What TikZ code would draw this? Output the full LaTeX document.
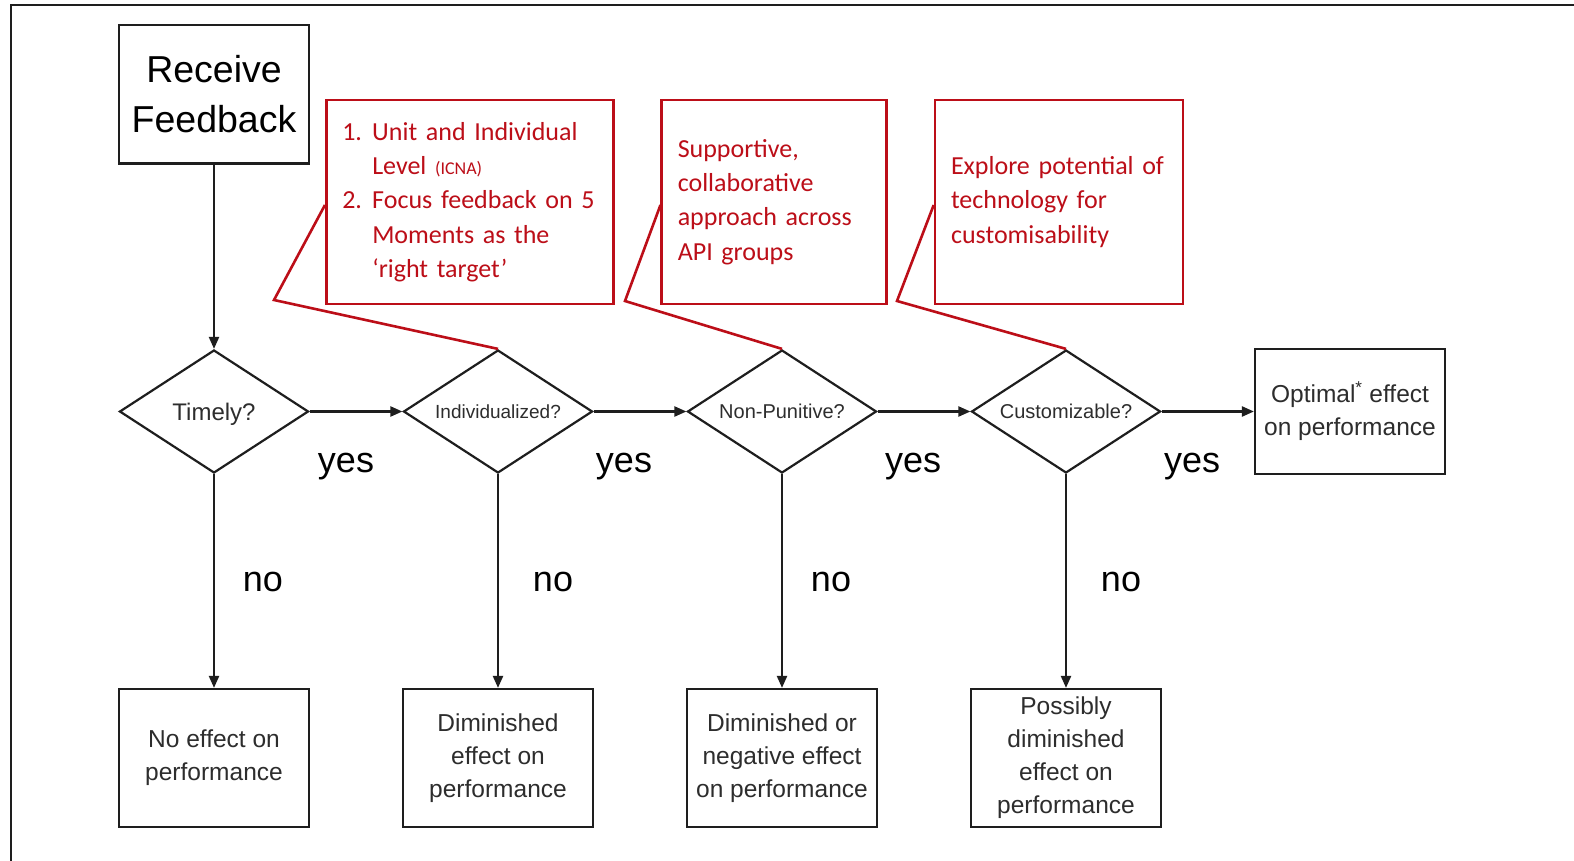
\documentclass[tikz,border=0pt]{standalone}
\usepackage{fontspec}
\setmainfont{Liberation Sans}
\newfontfamily\calibrifont{Carlito}
\usetikzlibrary{shapes.geometric,arrows.meta}
\definecolor{cred}{RGB}{188,14,24}
\definecolor{ink}{RGB}{45,45,45}
\definecolor{edge}{RGB}{30,30,30}
\newcommand{\diatext}[1]{\smash{\makebox[0pt]{\raisebox{-0.36em}{#1}}}}
\begin{document}
\begin{tikzpicture}[x=1pt,y=-1pt,
  box/.style={draw=edge, line width=2.2pt, inner sep=0pt, minimum width=190pt, minimum height=138pt, align=center, text=ink, font=\fontsize{24.5}{33}\selectfont},
  dia/.style={draw=edge, line width=2.2pt, diamond, inner sep=0pt, minimum width=189pt, minimum height=123pt, text=ink, font=\fontsize{20}{24}\selectfont},
  callout/.style={draw=cred, line width=2.6pt, inner xsep=16pt, inner ysep=0pt, minimum height=204pt, align=left, text=cred, font=\calibrifont\fontsize{26}{34.3}\selectfont},
  flow/.style={draw=edge, line width=2.2pt, -{Triangle[length=12pt,width=10pt]}},
  pointer/.style={draw=cred, line width=2.6pt, line join=miter},
  lbl/.style={font=\fontsize{36}{40}\selectfont, text=black, inner sep=0pt}
]
\useasboundingbox[fill=white] (0,0) rectangle (1574,861);
\draw[line width=2.2pt, edge] (11,861) -- (11,5) -- (1574,5);

% start box
\node[box, minimum width=189.5pt, minimum height=138.6pt, text=black, font=\fontsize{37.5}{50}\selectfont] (recv) at (214,94.3) {Receive\\Feedback};

% decisions
\node[dia, font=\fontsize{24}{28}\selectfont] (d1) at (214,411.5) {\diatext{Timely?}};
\node[dia, font=\fontsize{19}{23}\selectfont] (d2) at (498,411.5) {\diatext{Individualized?}};
\node[dia] (d3) at (782,411.5) {\diatext{Non-Punitive?}};
\node[dia] (d4) at (1066,411.5) {\diatext{Customizable?}};

% outcomes
\node[box, minimum height=125pt] (opt) at (1350,411.5) {Optimal\textsuperscript{*} effect\\on performance};
\node[box] (b1) at (214,758) {No effect on\\performance};
\node[box] (b2) at (498,758) {Diminished\\effect on\\performance};
\node[box] (b3) at (782,758) {Diminished or\\negative effect\\on performance};
\node[box] (b4) at (1066,758) {Possibly\\diminished\\effect on\\performance};

% callouts
\node[callout, text width=255.5pt] (c1) at (470,202) {\makebox[30pt][l]{1.}Unit and Individual\\\hspace*{30pt}Level {\fontsize{18}{20}\selectfont (ICNA)}\\\makebox[30pt][l]{2.}Focus feedback on 5\\\hspace*{30pt}Moments as the\\\hspace*{30pt}‘right target’};
\node[callout, text width=192.5pt] (c2) at (774,202) {Supportive,\\collaborative\\approach across\\API groups};
\node[callout, text width=216pt] (c3) at (1059,202) {Explore potential of\\technology for\\customisability};

\coordinate (k1) at (274,300);
\coordinate (k2) at (625,301);
\coordinate (k3) at (897,301);
\draw[pointer] ([yshift=-3pt]c1.west) -- (k1) -- (d2.north);
\draw[pointer] ([yshift=-3pt]c2.west) -- (k2) -- (d3.north);
\draw[pointer] ([yshift=-3pt]c3.west) -- (k3) -- (d4.north);

% connectors
\draw[flow] (recv.south) -- (d1.north);
\draw[flow] (d1.east) -- (d2.west);
\draw[flow] (d2.east) -- (d3.west);
\draw[flow] (d3.east) -- (d4.west);
\draw[flow] (d4.east) -- (opt.west);
\draw[flow] (d1.south) -- (b1.north);
\draw[flow] (d2.south) -- (b2.north);
\draw[flow] (d3.south) -- (b3.north);
\draw[flow] (d4.south) -- (b4.north);

% labels
\node[lbl] (y1) at (346,467) {yes};
\node[lbl] (y2) at (624,467) {yes};
\node[lbl] (y3) at (913,467) {yes};
\node[lbl] (y4) at (1192,467) {yes};
\node[lbl] (n1) at (263,582) {no};
\node[lbl] (n2) at (553,582) {no};
\node[lbl] (n3) at (831,582) {no};
\node[lbl] (n4) at (1121,582) {no};
\end{tikzpicture}
\end{document}
